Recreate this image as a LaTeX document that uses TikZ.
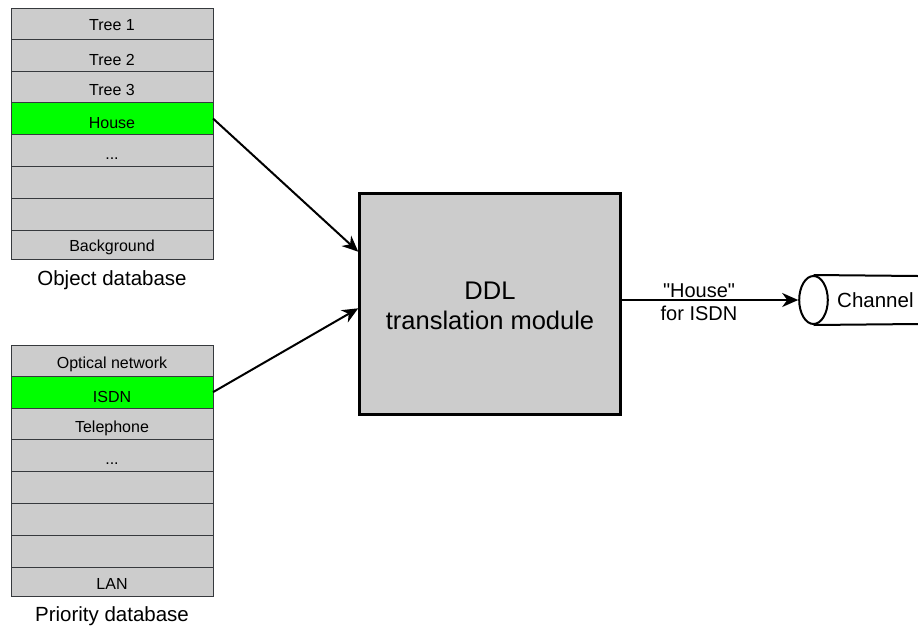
\documentclass[tikz,border=0pt]{standalone}
\usepackage{fontspec}
\setmainfont{Liberation Sans}
\newfontfamily\plainquotes{Liberation Sans}
\usetikzlibrary{arrows.meta,shapes.geometric,calc}

\definecolor{cellgray}{HTML}{CCCCCC}
\definecolor{cellline}{HTML}{36393D}
\definecolor{hilite}{HTML}{00FF00}

\tikzset{
  cell/.style={draw=cellline, line width=1pt, fill=cellgray, minimum width=202pt,
    inner sep=0pt, outer sep=0pt, font=\fontsize{16}{19}\selectfont, text depth=0pt},
  hot/.style={cell, fill=hilite},
  dblabel/.style={font=\fontsize{20.5}{24}\selectfont, inner sep=0pt},
  module/.style={draw=black, line width=2.5pt, fill=cellgray, inner sep=0pt,
    minimum width=261pt, minimum height=221pt},
  moduletext/.style={align=center, inner sep=0pt, font=\fontsize{25.5}{30}\selectfont},
  flow/.style={line width=2pt, -{Stealth[length=16pt,width=14pt,inset=5pt]}},
  edgelabel/.style={font=\fontsize{20}{23}\selectfont, align=center, inner sep=0pt},
  pipe/.style={line width=2pt},
}

% one row of a stack: name, top, bottom, style, downward text offset, text
\newcommand{\stackrow}[6]{%
  \node[#4, minimum height={#3-#2}, text height={11.5pt+2*#5pt}]
    (#1) at (112,{(#2+#3)/2}) {#6};}

\begin{document}
\begin{tikzpicture}[x=1pt,y=-1pt]
\useasboundingbox (0,0) rectangle (918,627);

% object database
\stackrow{tree1}{8}{39.5}{cell}{1.3}{Tree 1}
\stackrow{tree2}{39.5}{71}{cell}{4.6}{Tree 2}
\stackrow{tree3}{71}{102.7}{cell}{3}{Tree 3}
\stackrow{house}{102.7}{134.3}{hot}{4.5}{House}
\stackrow{odots}{134.3}{166}{cell}{3.5}{...}
\stackrow{oblankA}{166}{198}{cell}{0}{}
\stackrow{oblankB}{198}{230}{cell}{0}{}
\stackrow{backgr}{230}{259.3}{cell}{1.3}{Background}
\node[dblabel] (objdb) at (112,280.5) {Object database};

% priority database
\stackrow{optical}{345.7}{376.3}{cell}{1.5}{Optical network}
\stackrow{isdn}{376.3}{408}{hot}{4.5}{ISDN}
\stackrow{phone}{408}{439.7}{cell}{3}{Telephone}
\stackrow{pdots}{439.7}{471.3}{cell}{3.5}{...}
\stackrow{pblankA}{471.3}{503.3}{cell}{0}{}
\stackrow{pblankB}{503.3}{535.3}{cell}{0}{}
\stackrow{pblankC}{535.3}{567.3}{cell}{0}{}
\stackrow{lan}{567.3}{596.7}{cell}{1.3}{LAN}
\node[dblabel] (prioDB) at (112,616) {Priority database};

% translation module
\node[module] (ddl) at (490,303.8) {};
\node[moduletext] (ddltext) at ([yshift=-2.5pt]ddl.center) {DDL\\translation module};
\coordinate (ddlinA) at (ddl.west |- 0,251.7);
\coordinate (ddlinB) at (ddl.west |- 0,308.3);
\coordinate (ddlout) at (ddl.east |- 0,300);

% channel (cylinder running off to the right)
\node[ellipse, draw, line width=2pt, fill=white, minimum width=28.6pt,
  minimum height=48pt, inner sep=0pt] (chan) at (813.5,300) {};
\coordinate (pipeTop) at (918,276);
\coordinate (pipeBot) at (918,324);
\draw[pipe] (chan.north) -- (pipeTop);
\draw[pipe] (chan.south) -- (pipeBot);
\node[font=\fontsize{20.5}{24}\selectfont, anchor=west, inner sep=0pt] (chanlbl) at (837,300) {Channel};

% connectors
\draw[flow] (house.east) -- (ddlinA);
\draw[flow] (isdn.east) -- (ddlinB);
\draw[flow] (ddlout) -- (chan.west);
\node[edgelabel] (outlbl) at (699,302) {{\plainquotes "House"}\\for ISDN};
\end{tikzpicture}
\end{document}
